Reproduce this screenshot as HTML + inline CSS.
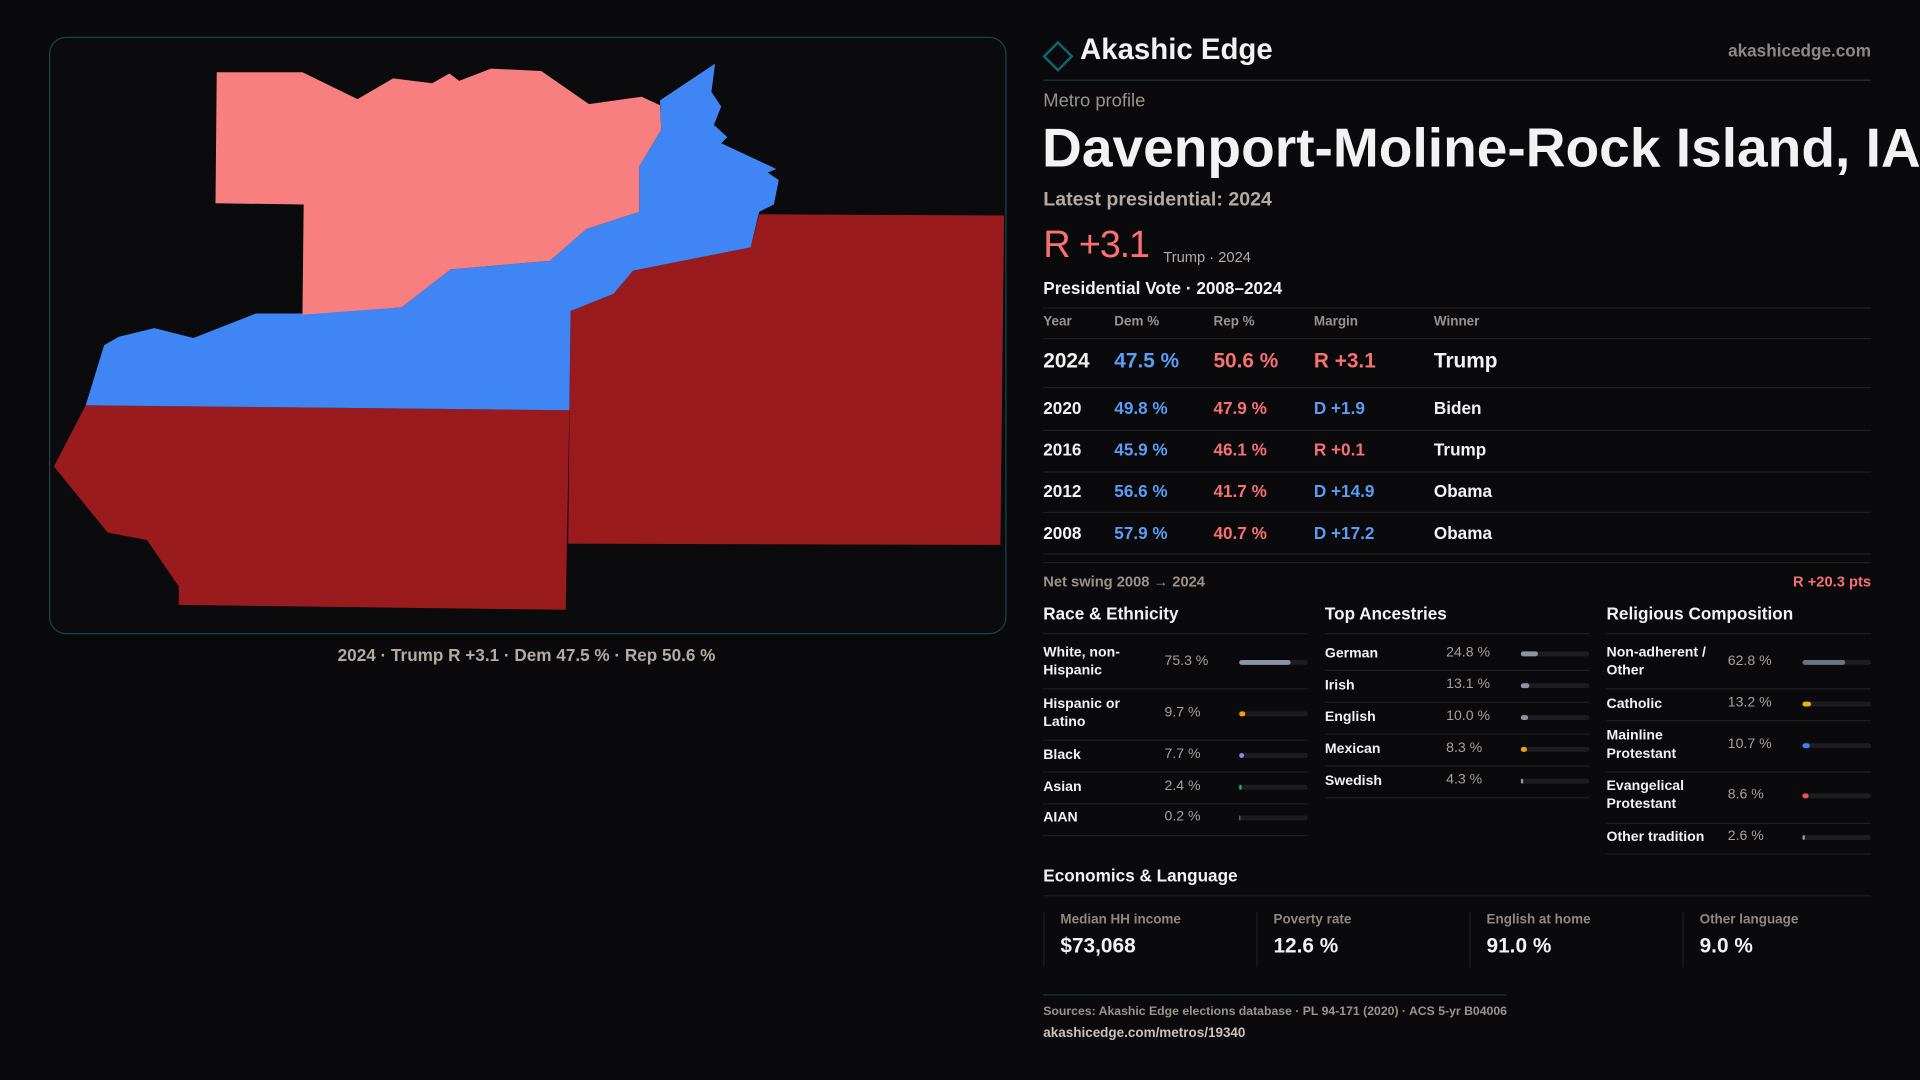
<!DOCTYPE html>
<html><head><meta charset="utf-8">
<style>
html,body{margin:0;padding:0;background:#0a090b;width:1920px;height:1080px;overflow:hidden;font-family:"Liberation Sans",sans-serif;}
#wrap{position:absolute;left:0;top:0;width:1568px;height:882px;transform:scale(1.22449);transform-origin:0 0;overflow:hidden;}
.a{position:absolute;white-space:nowrap;}
.g{color:#9a928b;}
.hl{position:absolute;height:1px;background:#1f1f23;}
.w{color:#f2f2f2;}
.dem{color:#5b9cf6}.rep{color:#f87171}
</style></head><body>
<div id="wrap">
<div class="a" style="left:40px;top:30px;width:780px;height:486px;border:1px solid #16454c;border-radius:14px;background:#0b0a0c;"></div>
<svg class="a" style="left:0;top:0" width="840" height="530">
<polygon fill="#991b1e" points="70,331 465,335 462,498 146,494 146,479 120,441 88,435 44,381"/>
<polygon fill="#991b1e" points="466,254 501,240 517,221 613,202 620,175 820,176 817,445 464,444"/>
<polygon fill="#3f85f4" points="539,82 584,52 581,75 589,87 583,102 594,112 589,117 634,138 627,141 636,147 632,167 620,173 613,202 517,221 501,240 466,254 465,335 70,331 85,282 97,275 126,268 158,276 209,256 247,256 328,251 368,220 449,213 479,187 522,173 522,136 540,106"/>
<polygon fill="#f87f7f" points="177,59 247,59 292,81 321,64 353,68 367,60 375,66 401,56 442,58 481,85 524,79 539,86 540,106 522,136 522,173 479,187 449,213 368,220 328,251 247,257 248,167 176,166"/>
</svg>
<div class="a" style="left:40px;width:780px;top:527px;text-align:center;font-size:14px;font-weight:bold;color:#b3aaa2;">2024 · Trump R +3.1 · Dem 47.5 % · Rep 50.6 %</div>

<div class="a" style="left:855px;top:37px;width:14px;height:14px;border:2px solid #0e6670;transform:rotate(45deg);"></div>
<div class="a w" style="left:882px;top:27px;font-size:24px;font-weight:bold;">Akashic Edge</div>
<div class="a g" style="right:40px;top:33px;font-size:14px;font-weight:bold;color:#8f8882;">akashicedge.com</div>
<div class="hl" style="left:852px;top:65px;width:676px;background:#143a40"></div>
<div class="a g" style="left:852px;top:74px;font-size:15px;">Metro profile</div>
<div class="a w" style="left:851px;top:95px;font-size:45px;font-weight:bold;letter-spacing:0px;">Davenport-Moline-Rock Island, IA-IL</div>
<div class="a" style="left:852px;top:155px;font-size:16px;font-weight:bold;color:#b3aaa2;">Latest presidential: 2024</div>
<div class="a rep" style="left:852px;top:182px;font-size:31px;letter-spacing:-1px;">R +3.1</div>
<div class="a g" style="left:950px;top:203px;font-size:12px;color:#b3aaa2;">Trump · 2024</div>
<div class="a w" style="left:852px;top:227px;font-size:14px;font-weight:bold;">Presidential Vote · 2008–2024</div>
<div class="a g" style="left:852px;top:468px;font-size:12px;font-weight:bold;">Net swing 2008 → 2024</div>
<div class="a rep" style="right:40px;top:468px;font-size:12px;font-weight:bold;">R +20.3 pts</div>
<div class="a w" style="left:852px;top:707px;font-size:14px;font-weight:bold;">Economics &amp; Language</div>
<div class="hl" style="left:852px;top:731px;width:676px;"></div>
<div class="hl" style="left:852px;top:812px;width:378px;background:#143a40"></div>
<div class="a g" style="left:852px;top:821px;font-size:10px;font-weight:bold;">Sources: Akashic Edge elections database · PL 94-171 (2020) · ACS 5-yr B04006</div>
<div class="a" style="left:852px;top:838px;font-size:11px;font-weight:bold;color:#c9c2bb;">akashicedge.com/metros/19340</div>
</div>
<script>
const years=["2024","2020","2016","2012","2008"];
const demPct=[47.5,49.8,45.9,56.6,57.9];
const repPct=[50.6,47.9,46.1,41.7,40.7];
const margins=[3.1,-1.9,0.1,-14.9,-17.2];
const winners=["Trump","Biden","Trump","Obama","Obama"];
const raceLabels=["White, non-<br>Hispanic","Hispanic or<br>Latino","Black","Asian","AIAN"];
const raceVals=[75.3,9.7,7.7,2.4,0.2];
const ancLabels=["German","Irish","English","Mexican","Swedish"];
const ancVals=[24.8,13.1,10.0,8.3,4.3];
const relLabels=["Non-adherent /<br>Other","Catholic","Mainline<br>Protestant","Evangelical<br>Protestant","Other tradition"];
const relVals=[62.8,13.2,10.7,8.6,2.6];
const econLabels=["Median HH income","Poverty rate","English at home","Other language"];
const econVals=["$73,068","12.6 %","91.0 %","9.0 %"];
const W=document.getElementById('wrap');
function mk(html,style,cls){const d=document.createElement('div');d.className='a '+(cls||'');d.innerHTML=html;d.style.cssText=style;W.appendChild(d);return d;}
let hl=mk('','left:852px;top:251px;width:676px;','hl');


const hx=[852,910,991,1073,1171],hn=["Year","Dem %","Rep %","Margin","Winner"];
hn.forEach((t,i)=>{const d=mk(t,'left:'+hx[i]+'px;top:257px;font-size:11px;font-weight:bold;','g');

});
hl=mk('','left:852px;top:276px;width:676px;','hl');


const rowY=[295,333,367,401,435],ruleY=[316,351,385,418,452];
years.forEach((y,i)=>{
 const big=i===0,fs=big?17:14,top=rowY[i]-(big?10:8);
 const m=margins[i];const mt=(m>0?'R +':'D +')+Math.abs(m).toFixed(1);
 const cells=[[y,'w'],[demPct[i].toFixed(1)+' %','dem'],[repPct[i].toFixed(1)+' %','rep'],[mt,m>0?'rep':'dem'],[winners[i],'w']];
 cells.forEach((c,j)=>{const d=mk(c[0],'left:'+hx[j]+'px;top:'+top+'px;font-size:'+fs+'px;font-weight:bold;',c[1]);
 
 });
 const r=mk('','left:852px;top:'+ruleY[i]+'px;width:676px;','hl');
 
 
});
hl=mk('','left:852px;top:459px;width:676px;','hl');


const cols=[
 {t:"Race & Ethnicity",x:852,labs:raceLabels,vals:raceVals,cols:["#8a94a6","#f59e0b","#9b7cf0","#10b981","#6b7280"],ys:[541,583,617,643,668],rs:[562,604,630,656,682]},
 {t:"Top Ancestries",x:1082,labs:ancLabels,vals:ancVals,cols:["#8a94a6","#8a94a6","#8a94a6","#f59e0b","#8a94a6"],ys:[534,560,586,612,638],rs:[547,573,599,625,651]},
 {t:"Religious Composition",x:1312,labs:relLabels,vals:relVals,cols:["#6b7280","#eab308","#3b82f6","#f05252","#8a94a6"],ys:[541,575,609,650,684],rs:[562,588,630,672,697]}];
cols.forEach(c=>{
 const t=mk(c.t.replace('&','&amp;'),'left:'+c.x+'px;top:493px;font-size:14px;font-weight:bold;','w');
 
 
 const r0=mk('','left:'+c.x+'px;top:517px;width:216px;','hl');
 
 
 c.labs.forEach((l,i)=>{
  const two=l.indexOf('<br>')>=0,cy=c.ys[i];
  const lab=mk(l,'left:'+c.x+'px;top:'+(cy-(two?15:7))+'px;font-size:11.5px;font-weight:bold;line-height:15px;white-space:nowrap;','w');
  
  
  const v=mk(c.vals[i].toFixed(1)+' %','left:'+(c.x+99)+'px;top:'+(cy-7)+'px;font-size:11.5px;','g');
  v.style.color='#a8a09a';
  
  
  const tr=mk('','left:'+(c.x+160)+'px;top:'+(cy-2)+'px;width:56px;height:4px;border-radius:2px;background:#1c1c21;');
  
  
  const b=document.createElement('div');
  b.style.cssText='position:absolute;left:0;top:0;height:4px;border-radius:2px;background:'+c.cols[i]+';width:'+Math.max(c.vals[i]/100*56,c.vals[i]>1?(c.vals[i]<5?1.5:4):0)+'px';
  
  
  tr.appendChild(b);
  const rr=mk('','left:'+c.x+'px;top:'+c.rs[i]+'px;width:216px;','hl');
  
  
 });
});
econLabels.forEach((l,i)=>{
 const x=852+i*174;
 const box=mk('<div style="font-size:11px;font-weight:bold;color:#8f8882">'+l+'</div><div style="font-size:17px;font-weight:bold;color:#f2f2f2;margin-top:6px">'+econVals[i]+'</div>','left:'+x+'px;top:745px;height:45px;padding-left:13px;border-left:1px solid #1f1f23;');
 
 
});
</script>
</body></html>
